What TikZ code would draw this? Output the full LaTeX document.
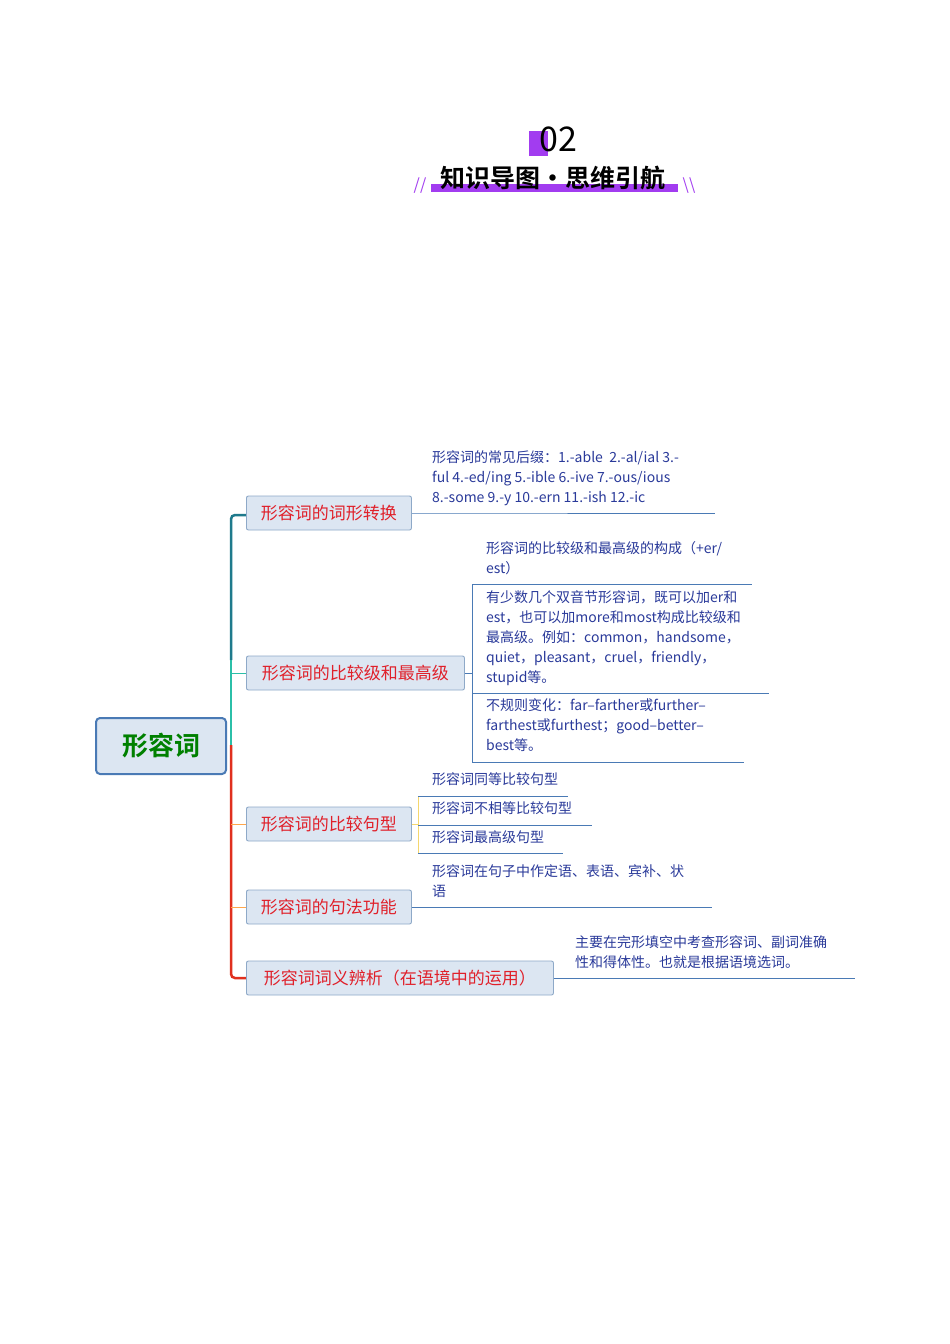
\documentclass[tikz,border=0pt]{standalone}
\usepackage{fontspec}
\setmainfont{Noto Sans CJK SC}
\newfontfamily\cjkb{Noto Sans CJK SC Bold}
\begin{document}
\begin{tikzpicture}[x=1pt,y=-1pt,
  br/.style={draw=boxb,fill=boxf,rounded corners=2pt,line width=0.9pt,minimum height=34pt,inner xsep=10pt,anchor=west,text=redt,font=\fontsize{17}{20}\selectfont},
  lf/.style={anchor=north west,align=left,inner sep=0pt,text=bluet,font=\fontsize{14}{20}\selectfont},
  ul/.style={draw=lineb,line width=0.9pt}]
\definecolor{boxb}{HTML}{8EA9C8}\definecolor{boxf}{HTML}{DCE6F2}
\definecolor{redt}{HTML}{E0202A}\definecolor{bluet}{HTML}{2A3A9A}
\definecolor{lineb}{HTML}{4A7AB5}\definecolor{purp}{HTML}{A23CF0}
\definecolor{teal1}{HTML}{1F7A8C}\definecolor{teal2}{HTML}{2BBFA8}\definecolor{redl}{HTML}{E0301E}
\definecolor{yel}{HTML}{F5D76E}
\useasboundingbox (0,0) rectangle (950,1344);
\fill[white] (0,0) rectangle (950,1344);
% title
\fill[purp] (529,131) rectangle (548,156);
\node[font=\fontsize{34}{34}\selectfont] (t02) at (558,139) {02};
\fill[purp] (431,184) rectangle (678,192);
\node[font=\cjkb\fontsize{25}{25}\selectfont] (tt) at (553,178) {知识导图·思维引航};
\node[text=purp,font=\fontsize{16}{16}\selectfont\itshape] (s1) at (420,186) {//};
\node[text=purp,font=\fontsize{16}{16}\selectfont] (s2) at (689,186) {\textbackslash\textbackslash};
% root
\node[draw=lineb,fill=boxf,rounded corners=4pt,line width=2pt,minimum width=130pt,minimum height=56pt,text=green!50!black,font=\cjkb\fontsize{26}{26}\selectfont] (root) at (161,746) {形容词};
% trunk
\draw[teal1,line width=2.5pt,rounded corners=4pt] (246,515) -- (231,515) -- (231,660);
\draw[teal2,line width=2.5pt] (231,660) -- (231,745);
\draw[redl,line width=2.5pt,rounded corners=4pt] (231,745) -- (231,978) -- (246,978);
\draw[teal2,line width=1pt] (231,673) -- (246,673);
\draw[orange!70,line width=1pt] (231,824) -- (246,824) (231,907) -- (246,907);
% branches
\node[br,minimum width=165pt] (b1) at (246,513) {形容词的词形转换};
\node[br,minimum width=218pt] (b2) at (246,673) {形容词的比较级和最高级};
\node[br,minimum width=165pt] (b3) at (246,824) {形容词的比较句型};
\node[br,minimum width=165pt] (b4) at (246,907) {形容词的句法功能};
\node[br,minimum width=307pt] (b5) at (246,978) {形容词词义辨析（在语境中的运用）};
% leaf 1
\node[lf] (l1) at (432,450) {形容词的常见后缀：1.-able~ 2.-al/ial 3.-\\ful 4.-ed/ing 5.-ible 6.-ive 7.-ous/ious\\8.-some 9.-y 10.-ern 11.-ish 12.-ic};
\coordinate (u1a) at (423,513); \coordinate (u1b) at (715,513);
\draw[ul] (b1.east) -- (u1a) -- (u1b);
% leaf 2
\coordinate (k2) at (472,673);
\draw[ul] (b2.east) -- (k2);
\draw[ul] (472,584) -- (472,762);
\node[lf] (l2a) at (486,541) {形容词的比较级和最高级的构成（+er/\\est）};
\draw[ul] (472,584) -- (752,584);
\node[lf] (l2b) at (486,590) {有少数几个双音节形容词，既可以加er和\\est，也可以加more和most构成比较级和\\最高级。例如：common，handsome，\\quiet，pleasant，cruel，friendly，\\stupid等。};
\draw[ul] (472,693) -- (769,693);
\node[lf] (l2c) at (486,698) {不规则变化：far--farther或further--\\farthest或furthest；good--better--\\best等。};
\draw[ul] (472,762) -- (744,762);
% leaf 3
\draw[yel,line width=1pt] (b3.east) -- (418,824);
\draw[yel,line width=1pt] (418,796) -- (418,853);
\node[lf] (l3a) at (432,772) {形容词同等比较句型};
\draw[ul] (418,796) -- (568,796);
\node[lf] (l3b) at (432,801) {形容词不相等比较句型};
\draw[ul] (418,825) -- (592,825);
\node[lf] (l3c) at (432,830) {形容词最高级句型};
\draw[ul] (418,853) -- (563,853);
% leaf 4
\node[lf] (l4) at (432,864) {形容词在句子中作定语、表语、宾补、状\\语};
\draw[ul] (b4.east) -- (712,907);
% leaf 5
\node[lf] (l5) at (575,935) {主要在完形填空中考查形容词、副词准确\\性和得体性。也就是根据语境选词。};
\draw[ul] (b5.east) -- (855,978);
\end{tikzpicture}
\end{document}
